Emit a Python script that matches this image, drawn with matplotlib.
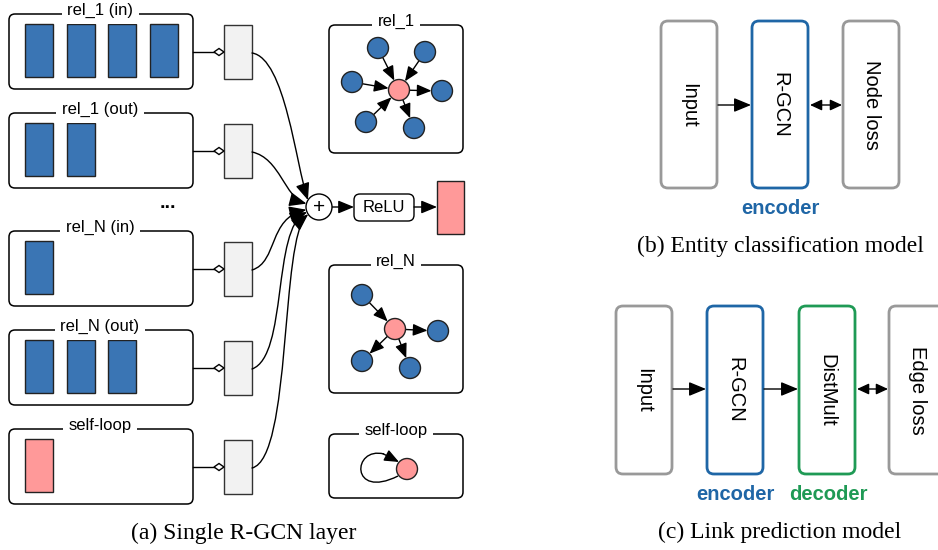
import numpy as np
import matplotlib
matplotlib.use("Agg")
import matplotlib.pyplot as plt
from matplotlib.patches import FancyBboxPatch, Rectangle, Circle, FancyArrowPatch, Polygon, PathPatch
from matplotlib.path import Path

# ---------------- data ----------------
group_names = ["rel_1 (in)", "rel_1 (out)", "rel_N (in)", "rel_N (out)", "self-loop"]
group_feats = [4, 2, 1, 3, 1]
group_colors = ["blue", "blue", "blue", "blue", "pink"]
graph_titles = ["rel_1", "rel_N", "self-loop"]
rel1_in = 4     # incoming neighbours in rel_1 graph
rel1_out = 2
relN_in = 1
relN_out = 3
act_label = "ReLU"
model_b = ["Input", "R-GCN", "Node loss"]
model_c = ["Input", "R-GCN", "DistMult", "Edge loss"]
captions = ["(a) Single R-GCN layer", "(b) Entity classification model", "(c) Link prediction model"]

BLUE = "#3a75b4"
PINK = "#ff9999"
LGREY = "#f2f2f2"
ENC = "#1f66a6"
DEC = "#1f9a55"
GREY = "#999999"
SANS = "Liberation Sans"
SERIF = "Liberation Serif"

HEAD = "-|>,head_length=0.8,head_width=0.33"
DHEAD = "<|-|>,head_length=0.65,head_width=0.3"

fig = plt.figure(figsize=(9.38, 5.5), dpi=100)
ax = fig.add_axes([0, 0, 1, 1])
ax.set_xlim(0, 938)
ax.set_ylim(550, 0)
ax.axis("off")


def rbox(x0, y0, x1, y1, ec="black", lw=1.0, r=6, fc="white", z=1):
    p = FancyBboxPatch((x0, y0), x1 - x0, y1 - y0,
                       boxstyle=f"round,pad=0,rounding_size={r}",
                       fc=fc, ec=ec, lw=lw, zorder=z)
    ax.add_patch(p)


def arrow(p0, p1, style=HEAD, ms=12, lw=1.0, z=3):
    a = FancyArrowPatch(p0, p1, arrowstyle=style, mutation_scale=ms,
                        lw=lw, color="black", shrinkA=0, shrinkB=0, zorder=z)
    ax.add_patch(a)


def curve(pts, ms=13, lw=1.0):
    path = Path(pts, [Path.MOVETO, Path.CURVE4, Path.CURVE4, Path.CURVE4])
    a = FancyArrowPatch(path=path, arrowstyle=HEAD, mutation_scale=ms,
                        lw=lw, color="black", zorder=3)
    ax.add_patch(a)


# ---------------- panel (a): feature groups ----------------
box_tops = [14, 113, 231, 330, 429]
box_h = 75
bar_w, bar_gap = 28, 13.5
small_x0, small_x1 = 224, 252
plus_c = (319, 207)
plus_r = 13
end_angles = [148, 165, 192, 203, 214]
ctrl = [
    [(285, 58), (296, 165)],
    [(280, 158), (285, 198)],
    [(278, 262), (268, 218)],
    [(288, 356), (272, 228)],
    [(292, 458), (280, 238)],
]
for i, (name, nf, col) in enumerate(zip(group_names, group_feats, group_colors)):
    t = box_tops[i]
    rbox(9, t, 193, t + box_h, lw=1.1, r=6)
    ax.text(100, t - 3.5, name, ha="center", va="center", fontsize=12, family=SANS,
            bbox=dict(fc="white", ec="none", pad=4), zorder=4)
    fc = BLUE if col == "blue" else PINK
    for k in range(nf):
        bx = 25 + k * (bar_w + bar_gap)
        ax.add_patch(Rectangle((bx, t + 10), bar_w, 53, fc=fc, ec="#222222", lw=1.0, zorder=2))
    cy = t + 38
    ax.plot([193, 214], [cy, cy], color="black", lw=1.0, zorder=2)
    ax.add_patch(Polygon([(214, cy), (219, cy - 3.5), (224, cy), (219, cy + 3.5)],
                         closed=True, fc="white", ec="black", lw=1.0, zorder=3))
    ax.add_patch(Rectangle((small_x0, cy - 27), small_x1 - small_x0, 54,
                           fc=LGREY, ec="#333333", lw=1.0, zorder=2))
    ang = np.deg2rad(end_angles[i])
    end = (plus_c[0] + plus_r * np.cos(ang), plus_c[1] - plus_r * np.sin(ang))
    curve([(small_x1, cy + 1), ctrl[i][0], ctrl[i][1], end])

ax.text(168, 204, "...", ha="center", va="center", fontsize=14, fontweight="bold", family=SANS)

# plus node, ReLU, output
ax.add_patch(Circle(plus_c, plus_r, fc="white", ec="black", lw=1.0, zorder=4))
ax.text(plus_c[0], plus_c[1] + 0.5, "+", ha="center", va="center", fontsize=15, family=SANS, zorder=5)
rbox(354, 194, 414, 221, lw=1.0, r=6)
ax.text(384, 207.5, act_label, ha="center", va="center", fontsize=12, family=SANS, zorder=5)
arrow((plus_c[0] + plus_r, 207), (354, 207), ms=12)
arrow((414, 207), (437, 207), ms=12)
ax.add_patch(Rectangle((437, 181), 27, 53, fc=PINK, ec="#222222", lw=1.0, zorder=2))

# ---------------- panel (a): graphs ----------------
NR = 10.5


def node(c, fc):
    ax.add_patch(Circle(c, NR, fc=fc, ec="#222222", lw=1.0, zorder=4))


def edge(a, b):
    a = np.array(a, float); b = np.array(b, float)
    d = (b - a) / np.linalg.norm(b - a)
    p0 = a + d * NR
    p1 = b - d * NR
    arrow(tuple(p0), tuple(p1), ms=11)


graph_boxes = [(329, 25, 463, 153), (329, 265, 463, 393), (329, 434, 463, 498)]
for title, (x0, y0, x1, y1) in zip(graph_titles, graph_boxes):
    rbox(x0, y0, x1, y1, lw=1.1, r=6)
    ax.text((x0 + x1) / 2, y0 - 4, title, ha="center", va="center", fontsize=12, family=SANS,
            bbox=dict(fc="white", ec="none", pad=4), zorder=4)

c1 = (399, 90)
in1 = [(378, 48), (425, 52), (352, 82), (366, 122)][:rel1_in]
out1 = [(442, 91), (414, 128)][:rel1_out]
node(c1, PINK)
for p in in1:
    node(p, BLUE); edge(p, c1)
for p in out1:
    node(p, BLUE); edge(c1, p)

c2 = (395, 329)
in2 = [(362, 295)][:relN_in]
out2 = [(438, 331), (362, 361), (410, 368)][:relN_out]
node(c2, PINK)
for p in in2:
    node(p, BLUE); edge(p, c2)
for p in out2:
    node(p, BLUE); edge(c2, p)

c3 = (407, 469)
loop = Path([(398, 476), (350, 500), (352, 446), (384, 454)],
            [Path.MOVETO, Path.CURVE4, Path.CURVE4, Path.CURVE4])
ax.add_patch(PathPatch(loop, fc="none", ec="black", lw=1.0, zorder=3))
arrow((383, 453.7), (399, 462), ms=11)
node(c3, PINK)

# ---------------- panel (b) ----------------
b_x = [661, 752, 843]
b_ec = [GREY, ENC, GREY]
for x, lab, ec in zip(b_x, model_b, b_ec):
    rbox(x, 21, x + 56, 188, ec=ec, lw=2.0, r=7)
    ax.text(x + 28, 105, lab, ha="center", va="center", rotation=270,
            fontsize=14.5, family=SANS, zorder=5)
arrow((718, 105), (751, 105), ms=13)
arrow((810, 105), (842, 105), style=DHEAD, ms=11)
ax.text(780, 208, "encoder", ha="center", va="center", fontsize=14.5,
        fontweight="bold", color=ENC, family=SANS)

# ---------------- panel (c) ----------------
c_x = [616, 707, 799, 889]
c_ec = [GREY, ENC, DEC, GREY]
for x, lab, ec in zip(c_x, model_c, c_ec):
    rbox(x, 306, x + 56, 474, ec=ec, lw=2.0, r=7)
    ax.text(x + 28, 390, lab, ha="center", va="center", rotation=270,
            fontsize=14.5, family=SANS, zorder=5)
arrow((673, 389), (706, 389), ms=13)
arrow((764, 389), (798, 389), ms=13)
arrow((857, 389), (888, 389), style=DHEAD, ms=11)
ax.text(735, 494, "encoder", ha="center", va="center", fontsize=14.5,
        fontweight="bold", color=ENC, family=SANS)
ax.text(828, 494, "decoder", ha="center", va="center", fontsize=14.5,
        fontweight="bold", color=DEC, family=SANS)

# ---------------- captions ----------------
ax.text(244, 533, captions[0], ha="center", va="center", fontsize=17, family=SERIF)
ax.text(780, 246, captions[1], ha="center", va="center", fontsize=17, family=SERIF)
ax.text(780, 532, captions[2], ha="center", va="center", fontsize=17, family=SERIF)

fig.savefig("out.png", dpi=100)
